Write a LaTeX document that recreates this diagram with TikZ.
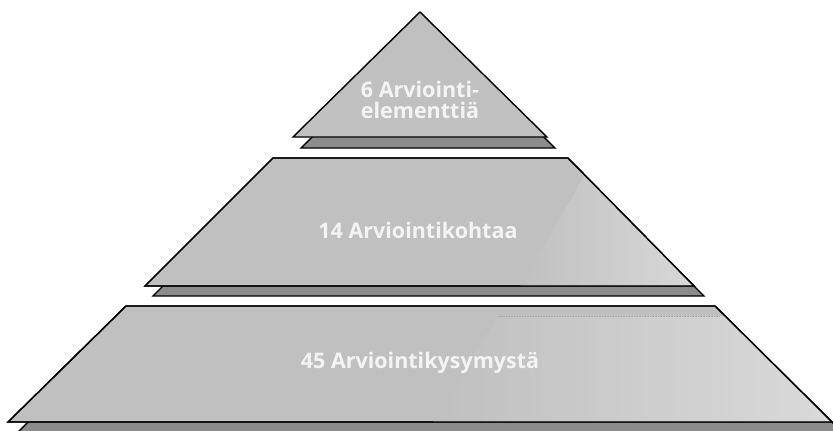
\documentclass[tikz,border=0pt]{standalone}
\usepackage{fontspec}
\setmainfont{Open Sans}
\usetikzlibrary{patterns}
\definecolor{slab}{HTML}{C0C0C0}
\definecolor{shade}{HTML}{8C8C8C}
\definecolor{lite}{HTML}{E4E4E4}
\definecolor{txt}{HTML}{F4F4F4}
\tikzset{
  slabshape/.style={fill=slab, draw=black, line width=1.4pt, line join=miter},
  shadowshape/.style={fill=shade, draw=black, line width=1.4pt, line join=miter},
  lbl/.style={text=txt, font=\bfseries\fontsize{21.5}{22}\selectfont, align=center, inner sep=0pt},
}
\begin{document}
\begin{tikzpicture}[x=1pt, y=-1pt]
\useasboundingbox (0,0) rectangle (833,431);
\clip (0,0) rectangle (833,431);
% bottom layer
\draw[shadowshape] (136,316) -- (725,316) -- (842,432) -- (18,432) -- cycle;
\draw[slabshape] (126,306) -- (715,306) -- (832,422) -- (8,422) -- cycle;
\begin{scope}
  \clip (126,306) -- (715,306) -- (832,422) -- (8,422) -- cycle;
  \shade[left color=slab, right color=lite, opacity=0.75] (498,316) -- (840,316) -- (840,422) -- (433,422) -- cycle;
  \draw[gray!70, densely dotted, line width=0.6pt] (498,316) -- (720,316);
\end{scope}
\draw[black, line width=1.4pt, line join=miter] (126,306) -- (715,306) -- (832,422) -- (8,422) -- cycle;
% middle layer
\draw[shadowshape] (281,168) -- (576,168) -- (704,296) -- (153,296) -- cycle;
\draw[slabshape] (273,158) -- (568,158) -- (694,286) -- (145,286) -- cycle;
\begin{scope}
  \clip (273,158) -- (568,158) -- (694,286) -- (145,286) -- cycle;
  \shade[left color=slab, right color=lite, opacity=0.7] (585,175) -- (700,175) -- (700,290) -- (518,290) -- cycle;
\end{scope}
\draw[black, line width=1.4pt, line join=miter] (273,158) -- (568,158) -- (694,286) -- (145,286) -- cycle;
% top layer
\draw[shadowshape] (428,23) -- (555,148) -- (301,148) -- cycle;
\draw[slabshape] (420,12) -- (547,137) -- (293,137) -- cycle;
% labels
\node[lbl, anchor=base] (t1) at (420,97) {6 Arviointi-};
\node[lbl, anchor=base] (t2) at (420,118) {elementtiä};
\node[lbl, anchor=base] (t3) at (418,238) {14 Arviointikohtaa};
\node[lbl, anchor=base] (t4) at (420,368) {45 Arviointikysymystä};
\end{tikzpicture}
\end{document}
